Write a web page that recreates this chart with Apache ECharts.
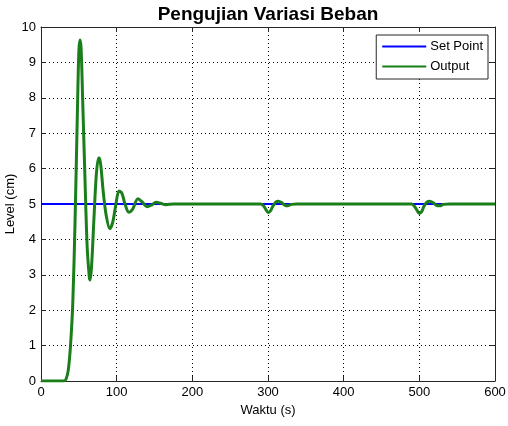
<!DOCTYPE html>
<html>
<head>
<meta charset="utf-8">
<script src="https://cdn.jsdelivr.net/npm/echarts@6/dist/echarts.min.js"></script>
<style>
  html, body { margin: 0; padding: 0; background: #fff; }
  #chart { width: 508px; height: 426px; }
</style>
</head>
<body>
<div id="chart"></div>
<script>
// time (s) and level (cm)
const waktu = [0, 30, 33, 36, 39, 42, 45, 48, 50, 51.5, 53, 55, 58, 61, 64, 65, 67, 70, 73, 76, 77, 79, 82, 86, 91, 95, 99, 103, 107, 111, 116, 121, 128, 134, 140, 146, 152, 158, 165, 175, 200,
  290, 294, 297, 300, 303, 306, 310, 314, 318, 322, 326, 331, 338, 350,
  490, 494, 497, 500, 503, 506, 510, 514, 518, 522, 527, 532, 540, 600];
const output = [0, 0, 0.05, 0.3, 1.0, 2.2, 4.5, 7.5, 9.3, 9.63, 9.4, 8.0, 5.8, 3.8, 2.9, 2.85, 3.3, 4.6, 5.8, 6.3, 6.3, 6.1, 5.4, 4.7, 4.3, 4.5, 5.0, 5.37, 5.3, 5.0, 4.77, 4.85, 5.15, 5.05, 4.92, 4.97, 5.05, 5.02, 4.98, 5.0, 5.0,
  5.0, 4.95, 4.85, 4.76, 4.8, 4.92, 5.05, 5.08, 5.04, 4.97, 4.95, 4.99, 5.0, 5.0,
  5.0, 4.92, 4.82, 4.73, 4.78, 4.93, 5.05, 5.08, 5.04, 4.97, 4.95, 4.99, 5.0, 5.0];
const setPointTime = [0, 600];
const setPointValue = [5, 5];
const xTicks = [0, 100, 200, 300, 400, 500, 600];
const yTicks = [0, 1, 2, 3, 4, 5, 6, 7, 8, 9, 10];

const chart = echarts.init(document.getElementById('chart'));
const font = 'Liberation Sans, Arial, sans-serif';
const frame = '#262626';

const baseAxis = {
  axisLine: { show: true, onZero: false, lineStyle: { color: frame, width: 1 } },
  axisTick: { show: true, inside: true, length: 5, lineStyle: { color: frame } },
  axisLabel: { color: '#000', fontFamily: font, fontSize: 13 },
};

chart.setOption({
  backgroundColor: '#fff',
  animation: false,
  title: {
    text: 'Pengujian Variasi Beban',
    left: 263, top: 0, textAlign: 'center',
    textStyle: { fontFamily: font, fontWeight: 'bold', fontSize: 19, color: '#000' }
  },
  legend: {
    right: 20, top: 35,
    orient: 'vertical',
    backgroundColor: '#fff',
    borderColor: frame, borderWidth: 1, borderRadius: 0,
    padding: [5, 5, 6, 6],
    itemGap: 7,
    itemWidth: 44, itemHeight: 2,
    icon: 'rect',
    textStyle: { fontFamily: font, fontSize: 13, color: '#000', padding: [0, 0, 0, -1] },
    data: ['Set Point', 'Output']
  },
  grid: { left: 41, right: 13, top: 27, bottom: 45, outerBoundsMode: 'none', containLabel: false },
  xAxis: [
    Object.assign({}, baseAxis, {
      type: 'value', min: 0, max: 600, interval: 100,
      name: 'Waktu (s)', nameLocation: 'middle', nameGap: 23, nameMoveOverlap: false,
      nameTextStyle: { fontFamily: font, fontSize: 13, color: '#000' },
      axisLabel: Object.assign({}, baseAxis.axisLabel, { margin: 5,
        formatter: v => xTicks.includes(v) ? String(v) : '' }),
      splitLine: { show: true, lineStyle: { type: [1, 3], color: '#000', width: 1 } }
    }),
    Object.assign({}, baseAxis, {
      type: 'value', min: 0, max: 600, interval: 100, position: 'top',
      axisLabel: { show: false }, splitLine: { show: false }
    })
  ],
  yAxis: [
    Object.assign({}, baseAxis, {
      type: 'value', min: 0, max: 10, interval: 1,
      name: 'Level (cm)', nameLocation: 'middle', nameGap: 24, nameMoveOverlap: false,
      nameTextStyle: { fontFamily: font, fontSize: 13, color: '#000' },
      axisLabel: Object.assign({}, baseAxis.axisLabel, { margin: 5,
        formatter: v => yTicks.includes(v) ? String(v) : '' }),
      splitLine: { show: true, lineStyle: { type: [1, 3], color: '#000', width: 1 } }
    }),
    Object.assign({}, baseAxis, {
      type: 'value', min: 0, max: 10, interval: 1, position: 'right',
      axisLabel: { show: false }, splitLine: { show: false }
    })
  ],
  series: [
    {
      name: 'Set Point', type: 'line', showSymbol: false, symbol: 'none',
      color: '#0000ff',
      lineStyle: { width: 2, color: '#0000ff' },
      data: setPointTime.map((t, i) => [t, setPointValue[i]]),
      z: 2
    },
    {
      name: 'Output', type: 'line', showSymbol: false, symbol: 'none',
      smooth: 0.3,
      color: '#1a7f1a',
      lineStyle: { width: 3, color: '#1a7f1a' },
      data: waktu.map((t, i) => [t, output[i]]),
      z: 3
    }
  ]
});
</script>
</body>
</html>
